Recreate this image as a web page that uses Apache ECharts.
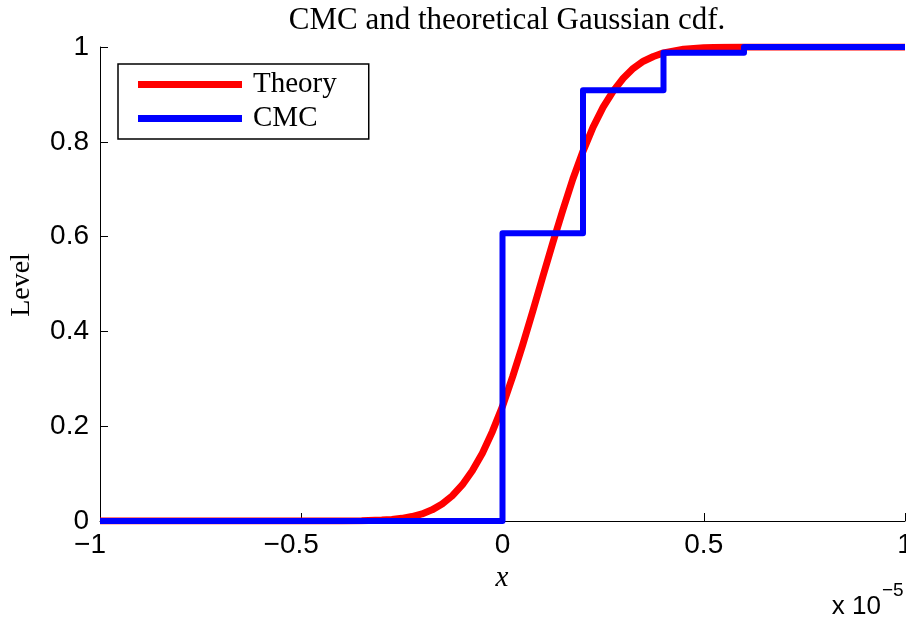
<!DOCTYPE html>
<html>
<head>
<meta charset="utf-8">
<script src="https://cdn.jsdelivr.net/npm/echarts@6/dist/echarts.min.js"></script>
<style>
html,body{margin:0;padding:0;background:#fff;}
#chart{width:906px;height:619px;}
</style>
</head>
<body>
<div id="chart"></div>
<script>
// x values are in units of 1e-5
var theoryX = [-1, -0.5, -0.4, -0.35, -0.3, -0.275, -0.25, -0.225, -0.2, -0.175, -0.15, -0.125, -0.1, -0.075, -0.05, -0.025, 0, 0.025, 0.05, 0.075, 0.1, 0.125, 0.15, 0.175, 0.2, 0.225, 0.25, 0.275, 0.3, 0.325, 0.35, 0.375, 0.4, 0.45, 0.5, 0.55, 0.6, 0.8, 1];
var theoryY = [0, 0, 0.0001, 0.0005, 0.0019, 0.0033, 0.0056, 0.0094, 0.015, 0.0235, 0.036, 0.053, 0.076, 0.106, 0.143, 0.189, 0.242, 0.304, 0.371, 0.442, 0.515, 0.587, 0.656, 0.722, 0.780, 0.831, 0.873, 0.907, 0.934, 0.955, 0.970, 0.980, 0.9875, 0.9955, 0.9986, 0.9996, 1, 1, 1];
var cmcX = [-1, 0, 0.2, 0.4, 0.6, 1];
var cmcY = [0, 0.607, 0.909, 0.988, 1, 1];
var xTicks = [-1, -0.5, 0, 0.5, 1];
var yTicks = [0, 0.2, 0.4, 0.6, 0.8, 1];
var seriesNames = ['Theory', 'CMC'];
var titleText = 'CMC and theoretical Gaussian cdf.';

function pairs(xs, ys) { return xs.map(function (x, i) { return [x, ys[i]]; }); }

var chart = echarts.init(document.getElementById('chart'), null, {renderer: 'canvas'});
var serif = '"Liberation Serif", "DejaVu Serif", serif';
var sans = '"Liberation Sans", Arial, sans-serif';

chart.setOption({
  animation: false,
  backgroundColor: '#ffffff',
  title: {
    text: titleText,
    left: 502,
    top: 0,
    textAlign: 'center',
    textStyle: {fontFamily: serif, fontSize: 31, fontWeight: 'normal', color: '#000'}
  },
  grid: {left: 100, right: 1, top: 47, bottom: 98, containLabel: false, outerBoundsMode: 'none'},
  legend: {
    data: seriesNames,
    orient: 'vertical',
    left: 118,
    top: 64,
    padding: [6, 32, 6, 20],
    itemGap: 5,
    itemWidth: 104,
    itemHeight: 7,
    icon: 'rect',
    borderColor: '#000',
    borderWidth: 1.5,
    backgroundColor: '#fff',
    textStyle: {fontFamily: serif, fontSize: 29, color: '#000', padding: [0, 0, 0, 6]}
  },
  xAxis: {
    type: 'value',
    min: -1,
    max: 1,
    interval: 0.5,
    axisLine: {onZero: false, lineStyle: {color: '#000', width: 1}},
    axisTick: {inside: true, length: 8, lineStyle: {color: '#000'}},
    splitLine: {show: false},
    axisLabel: {
      margin: 10,
      fontFamily: sans,
      fontSize: 28,
      color: '#000',
      formatter: function (v) {
        if (v < 0) return '{neg|\u2212' + String(Math.abs(v)) + '}';
        return String(v);
      },
      rich: {neg: {fontFamily: sans, fontSize: 28, color: '#000', padding: [0, 20, 0, 0]}}
    }
  },
  yAxis: {
    type: 'value',
    min: 0,
    max: 1,
    interval: 0.2,
    axisLine: {show: true, onZero: false, lineStyle: {color: '#000', width: 1}},
    axisTick: {show: true, inside: true, length: 8, lineStyle: {color: '#000'}},
    splitLine: {show: false},
    axisLabel: {margin: 11, fontFamily: sans, fontSize: 28, color: '#000'}
  },
  series: [
    {
      name: seriesNames[0],
      type: 'line',
      data: pairs(theoryX, theoryY),
      showSymbol: false,
      symbol: 'none',
      smooth: false,
      itemStyle: {color: '#ff0000'},
      lineStyle: {color: '#ff0000', width: 7, join: 'round'},
      z: 2
    },
    {
      name: seriesNames[1],
      type: 'line',
      data: pairs(cmcX, cmcY),
      step: 'end',
      showSymbol: false,
      symbol: 'none',
      itemStyle: {color: '#0000ff'},
      lineStyle: {color: '#0000ff', width: 6, join: 'round'},
      z: 3
    }
  ],
  graphic: [
    {
      type: 'text', x: 502, y: 578,
      style: {text: 'x', fontFamily: serif, fontStyle: 'italic', fontSize: 29, fill: '#000', align: 'center', verticalAlign: 'middle'}
    },
    {
      type: 'text', x: 22, y: 285, rotation: Math.PI / 2,
      style: {text: 'Level', fontFamily: serif, fontSize: 28, fill: '#000', align: 'center', verticalAlign: 'middle'}
    },
    {
      type: 'text', x: 881, y: 607,
      style: {text: 'x 10', fontFamily: sans, fontSize: 26, fill: '#000', align: 'right', verticalAlign: 'middle'}
    },
    {
      type: 'text', x: 882, y: 591,
      style: {text: '\u22125', fontFamily: sans, fontSize: 19, fill: '#000', align: 'left', verticalAlign: 'middle'}
    }
  ]
});
</script>
</body>
</html>
